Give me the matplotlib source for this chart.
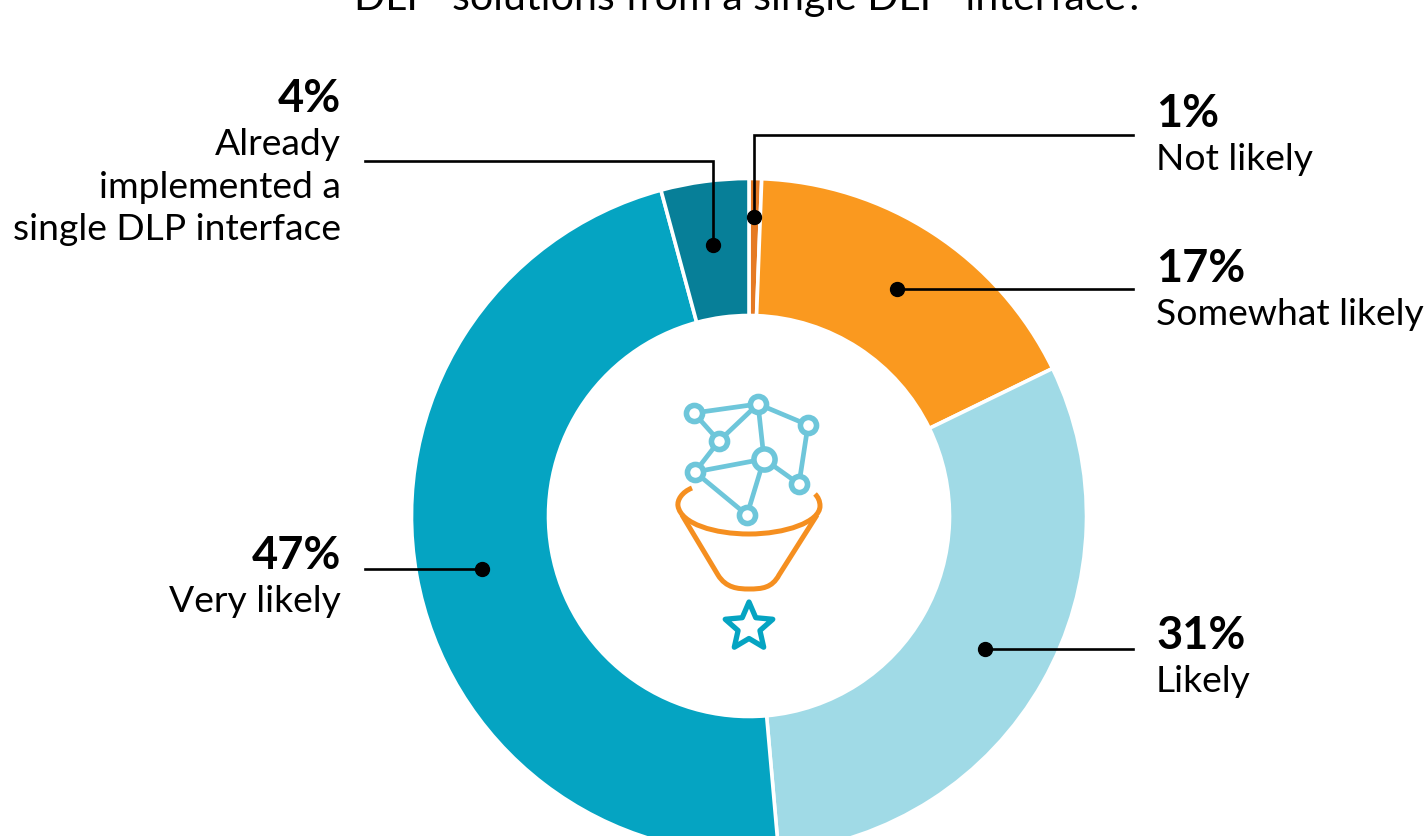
import matplotlib
matplotlib.use("Agg")
import matplotlib.pyplot as plt
from matplotlib.path import Path
from matplotlib.patches import PathPatch
import numpy as np

plt.rcParams['font.family'] = ['Lato', 'DejaVu Sans']

# slices go clockwise from 12 o'clock (y axis is flipped, so counterclock=True here)
# sizes, the printed labels are the rounded ones
categories = ["Not likely", "Somewhat likely", "Likely", "Very likely", "Already implemented"]
values = [0.6, 17.2, 30.8, 47.2, 4.2]
colors = ["#E57A24", "#FA991F", "#A0DAE6", "#05A4C2", "#077F98"]

title_text = "DLP  solutions from a single DLP  interface?"

# (pct, label lines, text x, pct baseline, align)
labels = [
    ("4%", ["Already", "implemented a", "single DLP interface"], 341, 112, "right"),
    ("1%", ["Not likely"], 1156, 127, "left"),
    ("17%", ["Somewhat likely"], 1156, 282, "left"),
    ("31%", ["Likely"], 1156, 649, "left"),
    ("47%", ["Very likely"], 341, 569, "right"),
]

# leader lines, last point gets the dot
leaders = [
    [(365, 162), (713, 162), (713, 246)],
    [(1133, 136), (754, 136), (754, 218)],
    [(1133, 290), (897, 290)],
    [(1133, 650), (985, 650)],
    [(365, 570), (482, 570)],
]

# icon
nodes = [(694, 414), (758, 405), (808, 426), (719, 442), (764, 460), (695, 473), (799, 485), (747, 516)]
node_sizes = [11.6, 11.6, 11.6, 11.6, 15.2, 11.6, 11.6, 11.6]
edges = [(0, 1), (0, 3), (1, 3), (1, 2), (1, 4), (2, 6), (4, 6), (4, 5), (3, 5), (5, 7), (4, 7)]

fig = plt.figure(figsize=(14.25, 8.37), dpi=100)
ax = fig.add_axes([0, 0, 1, 1])

ax.pie(values, colors=colors, startangle=270, counterclock=True, center=(749, 517), radius=337.5,
       wedgeprops=dict(width=137, edgecolor="white", linewidth=2.6))
ax.set_xlim(0, 1425)
ax.set_ylim(837, 0)
ax.set_aspect("equal")
ax.axis("off")

ax.text(749, 10, title_text, ha="center", va="baseline", fontsize=29.6, color="black")

for pct, lines, x, y, align in labels:
    ax.text(x, y, pct, ha=align, va="baseline", fontsize=32.5, fontweight="bold", color="black")
    for i, line in enumerate(lines):
        ax.text(x, y + 43 + i * 42.5, line, ha=align, va="baseline", fontsize=26.8, color="black")

for pts in leaders:
    xs = [p[0] for p in pts]
    ys = [p[1] for p in pts]
    ax.plot(xs, ys, color="black", lw=1.9, solid_joinstyle="miter", zorder=5)
    ax.plot(xs[-1], ys[-1], "o", color="black", ms=10, zorder=6)

# network
net_col = "#6EC6DA"
for a, b in edges:
    ax.plot([nodes[a][0], nodes[b][0]], [nodes[a][1], nodes[b][1]], color=net_col, lw=3.4, zorder=3)
for (x, y), s in zip(nodes, node_sizes):
    ax.plot(x, y, "o", ms=s, mfc="white", mec=net_col, mew=4, zorder=4)

# funnel
fun_col = "#F58F20"
rim = Path(
    [(692, 489), (682, 493), (677, 501), (678, 507),
     (681, 525), (715, 535), (749, 535),
     (785, 535), (820, 523), (820, 507),
     (820, 502), (818, 498), (815, 495)],
    [Path.MOVETO] + [Path.CURVE4] * 12)
body = Path(
    [(682, 516), (718, 576), (726, 589), (738, 590), (749, 590),
     (762, 590), (772, 589), (779, 576), (817, 516)],
    [Path.MOVETO, Path.LINETO, Path.CURVE4, Path.CURVE4, Path.CURVE4,
     Path.CURVE4, Path.CURVE4, Path.CURVE4, Path.LINETO])
for p in (rim, body):
    ax.add_patch(PathPatch(p, fc="none", ec=fun_col, lw=3.6, capstyle="butt", zorder=3))

# star
star_ang = np.deg2rad(-90 + 36 * np.arange(10))
star_r = np.where(np.arange(10) % 2 == 0, 25, 11.5)
star_x = 749 + star_r * np.cos(star_ang)
star_y = 628 + star_r * np.sin(star_ang)
ax.fill(star_x, star_y, fc="white", ec="#05A4C2", lw=3.8, joinstyle="round", zorder=3)

fig.savefig("out.png", dpi=100)
